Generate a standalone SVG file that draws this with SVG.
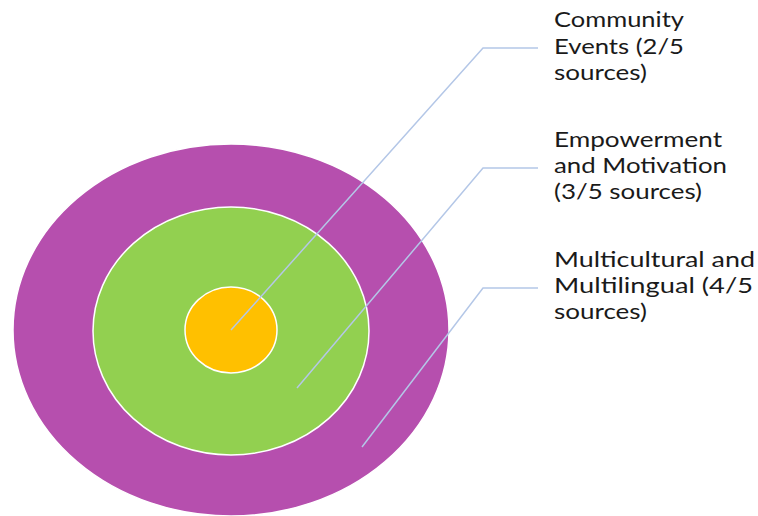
<svg xmlns="http://www.w3.org/2000/svg" width="758" height="516" viewBox="0 0 758 516">
  <style>
    .ring { stroke: #ffffff; stroke-width: 1.5; }
    .lbl { font-family: Lato, "Open Sans", "Liberation Sans", sans-serif; font-size: 22px; fill: #1a1a1a; }
    .conn { fill: none; stroke: #b4c7e7; stroke-width: 1.5; }
  </style>
  <rect width="758" height="516" fill="#ffffff"/>
  <g id="ring-outer">
    <ellipse class="ring" cx="231" cy="330" rx="218" ry="186" fill="#b64fae"/>
  </g>
  <g id="ring-middle">
    <ellipse class="ring" cx="231" cy="331" rx="138" ry="124" fill="#92d050"/>
  </g>
  <g id="ring-inner">
    <ellipse class="ring" cx="231" cy="330" rx="46" ry="43" fill="#ffc000"/>
  </g>
  <g id="connectors">
    <polyline class="conn" points="231,330 483,48 538,48"/>
    <polyline class="conn" points="297,388 483,168 538,168"/>
    <polyline class="conn" points="362,447 483,288 538,288"/>
  </g>
  <g id="label-community">
    <text class="lbl" x="554" y="27" textLength="130" lengthAdjust="spacingAndGlyphs">Community</text>
    <text class="lbl" x="554" y="54" textLength="130" lengthAdjust="spacingAndGlyphs">Events (2/5</text>
    <text class="lbl" x="554" y="80" textLength="93" lengthAdjust="spacingAndGlyphs">sources)</text>
  </g>
  <g id="label-empowerment">
    <text class="lbl" x="554" y="147" textLength="168" lengthAdjust="spacingAndGlyphs">Empowerment</text>
    <text class="lbl" x="554" y="173" textLength="173" lengthAdjust="spacingAndGlyphs">and Motivation</text>
    <text class="lbl" x="554" y="199" textLength="148" lengthAdjust="spacingAndGlyphs">(3/5 sources)</text>
  </g>
  <g id="label-multicultural">
    <text class="lbl" x="554" y="267" textLength="201" lengthAdjust="spacingAndGlyphs">Multicultural and</text>
    <text class="lbl" x="554" y="293" textLength="199" lengthAdjust="spacingAndGlyphs">Multilingual (4/5</text>
    <text class="lbl" x="554" y="319" textLength="93" lengthAdjust="spacingAndGlyphs">sources)</text>
  </g>
</svg>
